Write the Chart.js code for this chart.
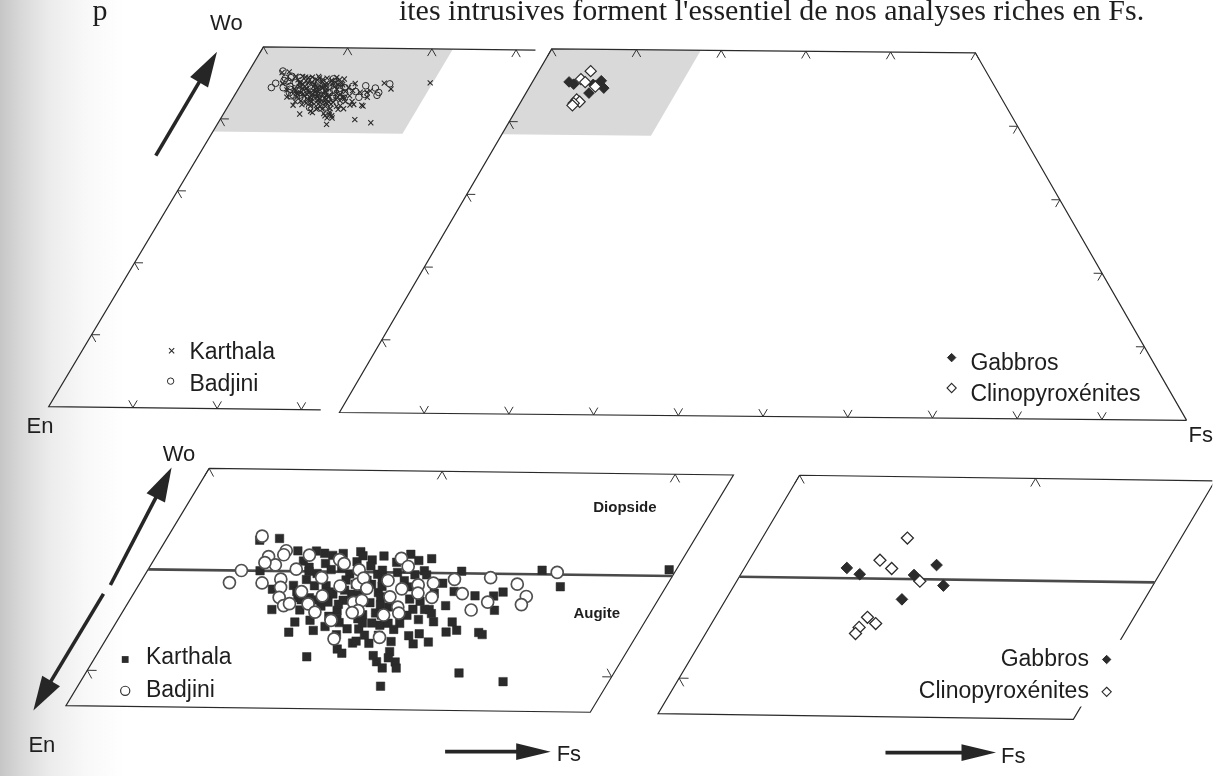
<!DOCTYPE html>
<html lang="fr">
<head>
<meta charset="utf-8">
<title>Pyroxènes : Karthala, Badjini, gabbros et clinopyroxénites</title>
<script src="https://cdn.jsdelivr.net/npm/chart.js@4.4.1/dist/chart.umd.min.js"></script>
<style>
  html, body { margin: 0; padding: 0; background: #fff; }
  #page {
    position: relative; width: 1220px; height: 776px; overflow: hidden;
    background: linear-gradient(to right, #c6c6c6 0px, #d9d9d9 22px, #ececec 50px, #f8f8f8 85px, #ffffff 125px);
  }
  #page canvas { position: absolute; left: 0; top: 0; }
</style>
</head>
<body>
<div id="page"><canvas id="diagram" width="1220" height="776"></canvas></div>
<script>
// ---------------------------------------------------------------------------
// Pyroxene compositions, in mol % (Fs, Wo); En = 100 - Fs - Wo
// ---------------------------------------------------------------------------
const karthalaFs = [4.0,4.8,5.9,6.7,7.5,8.6,9.3,10.8,11.3,11.8,13.4,16.8,18.0,5.8,6.3,7.6,7.6,8.6,9.0,10.1,
  10.4,10.6,10.5,10.9,11.3,11.3,12.1,12.5,12.4,12.9,13.1,12.2,12.9,12.1,13.2,13.2,12.8,13.0,13.6,14.3,
  14.3,14.7,15.9,13.6,14.6,15.7,15.9,15.4,15.8,18.0,15.7,10.7,10.8,11.9,12.8,13.2,10.2,10.5,11.6,12.5,
  4.8,22.2,6.4,6.8,7.3,7.4,7.8,8.2,8.7,8.7,9.4,9.9,10.0,7.0,7.5,8.0,8.5,8.7,9.3,9.9,
  10.4,10.4,7.6,8.3,8.5,9.1,9.1,10.3,10.8,8.9,9.5,10.0,9.0,10.9,9.6,7.5,11.5,11.8,11.2,12.3,
  12.2,12.8,12.9,7.1,7.9,6.6,7.1,9.2,
  6.9,7.7,8.3,8.9,9.6,10.2,9.0,9.8,10.6,11.2,9.3,10.3,11.1,8.2,8.0,7.3,6.9,8.8,9.7,10.4,
  11.0,11.6,12.0,12.4,11.5,12.0,9.7,10.7,13.5,13.8,11.8,12.8];
const karthalaWo = [46.5,46.6,46.0,46.0,45.8,46.0,45.6,45.9,45.6,45.7,45.1,45.2,44.4,44.1,43.1,42.5,42.0,42.1,40.8,41.2,
  41.0,41.5,42.2,41.9,41.5,42.4,40.6,40.3,41.1,40.6,40.3,41.6,39.4,42.5,41.5,42.0,42.7,43.2,43.4,42.1,
  42.6,42.2,40.1,44.1,43.9,42.1,42.0,43.9,43.2,39.7,44.1,45.0,43.4,43.7,43.2,43.0,42.7,42.5,42.5,40.8,
  45.0,45.3,45.5,45.2,44.9,45.4,45.1,45.2,44.9,45.5,45.3,44.9,45.1,44.6,44.3,44.3,43.9,44.6,43.9,44.4,
  44.0,44.3,43.7,43.3,43.5,43.1,43.6,43.5,43.0,42.8,42.5,42.2,42.3,42.5,43.9,43.1,44.9,45.1,44.6,43.2,
  42.9,44.0,44.5,45.9,45.9,44.3,43.7,44.4,
  45.0,44.6,44.0,44.1,44.6,44.7,43.4,43.2,43.8,43.3,42.7,42.9,42.9,42.6,43.6,43.6,44.0,45.8,45.8,45.5,
  45.2,44.3,44.9,43.6,41.9,42.2,41.9,41.6,42.6,41.6,40.9,41.9];

const badjiniFs = [4.0,4.0,3.8,5.2,4.8,5.3,5.4,5.4,5.9,6.1,6.3,6.7,6.9,6.3,7.1,7.7,6.5,8.2,7.6,8.1,
  9.1,9.7,7.9,8.2,8.6,9.0,9.3,9.4,9.8,9.6,9.9,10.0,9.8,11.6,11.2,10.5,11.0,10.5,11.0,11.3,
  11.6,11.8,11.9,12.1,12.5,12.8,13.3,14.0,14.8,15.3,14.8,16.1,16.8,16.8,17.5,4.8];
const badjiniWo = [46.7,45.0,44.4,44.4,45.7,45.3,46.0,45.8,44.6,44.2,43.7,43.3,43.4,45.1,44.0,43.4,45.8,43.0,44.7,43.8,
  42.6,41.7,45.6,45.4,44.3,45.1,44.4,44.7,44.2,43.5,43.6,43.1,43.0,41.8,42.9,44.6,43.8,45.7,45.3,44.2,
  43.3,43.0,44.4,44.0,44.5,43.8,44.7,44.0,43.2,43.6,44.8,44.5,43.9,43.5,45.1,45.4];

const gabbroFs = [4.3, 5.0, 7.3, 8.0, 8.8, 7.4];
const gabbroWo = [45.5, 45.2, 45.2, 45.7, 44.7, 44.0];

const clinoFs = [6.1, 5.5, 6.2, 7.7, 6.4, 6.9, 6.3, 6.3];
const clinoWo = [47.0, 45.9, 45.5, 44.9, 43.1, 42.8, 42.6, 42.3];

// graduation of the quadrilateral (10 % steps)
const fsTicksBase = [10, 20, 30, 40, 50, 60, 70, 80, 90];
const fsTicksTop  = [0, 10, 20, 30, 40, 50];
const woTicks     = [10, 20, 30, 40];

// composition limits of the diagrams
const WO_TOP = 50;                 // Di–Hd join
const FS_LAVA_VIEW = 32.3;         // visible part of the lava quadrilateral
const ZOOM_WO_MIN = 38.25;         // lower limit of the enlarged windows
const ZOOM_FS_LAVA = 22.5;
const ZOOM_FS_INTR = 17.6;
const DI_AUG_WO = 45;              // diopside / augite boundary

// ---------------------------------------------------------------------------
// Page layout: each diagram is an oblique projection of (Fs, Wo) onto the page
// ---------------------------------------------------------------------------
const P = {
  lava:     { ox: 41.5, oy: 407, a: 8.53, b: 4.35,  c: 0.10, d: 7.34, w0: 0 },
  intr:     { ox: 336,  oy: 413, a: 8.58, b: 4.30,  c: 0.08, d: 7.42, w0: 0 },
  lavaZoom: { ox: 204,  oy: 470, a: 23.6, b: 12.34, c: 0.30, d: 20.6, w0: 50 },
  intrZoom: { ox: 802,  oy: 477, a: 23.9, b: 12.2,  c: 0.33, d: 20.7, w0: 50 }
};
function project(p, fs, wo) {
  const dw = wo - p.w0;
  return { x: p.ox + p.a * fs + p.b * dw, y: p.oy + p.c * fs - p.d * dw };
}
const GAP = { x: 0, y: null };
const path = (p, pts) => pts.map(([f, w]) => project(p, f, w));
const points = (p, fsArr, woArr) => fsArr.slice(0, Math.min(fsArr.length, woArr.length)).map((f, i) => project(p, f, woArr[i]));

// small chevron ticks drawn along the two other composition directions
function chevron(p, v, a1, a2) { return [project(p, a1[0], a1[1]), project(p, v[0], v[1]), project(p, a2[0], a2[1]), GAP]; }
const tickBase  = (p, f, d) => chevron(p, [f, 0], [f - d, d], [f, d]);
const tickTop   = (p, f, wt, d) => chevron(p, [f, wt], [f, wt - d], [f + d, wt - d]);
const tickLeft  = (p, w, d) => chevron(p, [0, w], [d, w], [d, w - d]);
const tickRight = (p, w, d) => { const f = 100 - w; return chevron(p, [f, w], [f - d, w], [f, w - d]); };
const tickSide  = (p, fe, w, d) => chevron(p, [fe, w], [fe - d, w], [fe - d, w + d]);

// outlines
const frameLava = path(P.lava, [[FS_LAVA_VIEW, 0], [0, 0], [0, WO_TOP], [FS_LAVA_VIEW, WO_TOP]]);
const frameIntr = path(P.intr, [[100, 0], [0, 0], [0, WO_TOP], [50, WO_TOP], [100, 0]]);
const frameLavaZoom = path(P.lavaZoom, [[0, WO_TOP], [ZOOM_FS_LAVA, WO_TOP], [ZOOM_FS_LAVA, ZOOM_WO_MIN], [0, ZOOM_WO_MIN], [0, WO_TOP]]);
const frameIntrZoom = path(P.intrZoom, [[0, WO_TOP], [ZOOM_FS_INTR, WO_TOP], [ZOOM_FS_INTR, ZOOM_WO_MIN], [0, ZOOM_WO_MIN], [0, WO_TOP]]);

// windows enlarged below
const windowLava = path(P.lava, [[0, ZOOM_WO_MIN], [ZOOM_FS_LAVA, ZOOM_WO_MIN], [ZOOM_FS_LAVA, WO_TOP], [0, WO_TOP], [0, ZOOM_WO_MIN]]);
const windowIntr = path(P.intr, [[0, ZOOM_WO_MIN], [ZOOM_FS_INTR, ZOOM_WO_MIN], [ZOOM_FS_INTR, WO_TOP], [0, WO_TOP], [0, ZOOM_WO_MIN]]);

// graduations
const ticksLava = [
  ...fsTicksBase.filter(f => f < FS_LAVA_VIEW).flatMap(f => tickBase(P.lava, f, 1)),
  ...fsTicksTop.filter(f => f < FS_LAVA_VIEW).flatMap(f => tickTop(P.lava, f, WO_TOP, 1)),
  ...woTicks.flatMap(w => tickLeft(P.lava, w, 1))
];
const ticksIntr = [
  ...fsTicksBase.flatMap(f => tickBase(P.intr, f, 1)),
  ...fsTicksTop.flatMap(f => tickTop(P.intr, f, WO_TOP, 1)),
  ...woTicks.flatMap(w => tickLeft(P.intr, w, 1)),
  ...woTicks.flatMap(w => tickRight(P.intr, w, 1))
];
const ticksLavaZoom = [
  ...fsTicksTop.filter(f => f < ZOOM_FS_LAVA).flatMap(f => tickTop(P.lavaZoom, f, WO_TOP, 0.4)),
  ...woTicks.filter(w => w > ZOOM_WO_MIN).flatMap(w => tickLeft(P.lavaZoom, w, 0.4)),
  ...woTicks.filter(w => w > ZOOM_WO_MIN).flatMap(w => tickSide(P.lavaZoom, ZOOM_FS_LAVA, w, 0.4))
];
const ticksIntrZoom = [
  ...fsTicksTop.filter(f => f < ZOOM_FS_INTR).flatMap(f => tickTop(P.intrZoom, f, WO_TOP, 0.4)),
  ...woTicks.filter(w => w > ZOOM_WO_MIN).flatMap(w => tickLeft(P.intrZoom, w, 0.4))
];

// diopside / augite boundary
const diAugLava = path(P.lavaZoom, [[0, DI_AUG_WO], [ZOOM_FS_LAVA, DI_AUG_WO]]);
const diAugIntr = path(P.intrZoom, [[0, DI_AUG_WO], [ZOOM_FS_INTR, DI_AUG_WO]]);

// direction arrows (page units)
function arrow(tail, tip, headLen, halfW) {
  const dx = tip[0] - tail[0], dy = tip[1] - tail[1], L = Math.hypot(dx, dy);
  const ux = dx / L, uy = dy / L;
  const bx = tip[0] - ux * headLen, by = tip[1] - uy * headLen;
  return {
    shaft: [{ x: tail[0], y: tail[1] }, { x: bx + ux * 2, y: by + uy * 2 }],
    head: [{ x: tip[0], y: tip[1] }, { x: bx - uy * halfW, y: by + ux * halfW }, { x: bx + uy * halfW, y: by - ux * halfW }, { x: tip[0], y: tip[1] }]
  };
}
const arrows = [
  arrow([150, 151], [212, 45], 36, 10.5),
  arrow([104, 589], [166, 469], 35, 10.5),
  arrow([97, 598], [26, 717], 35, 10.5),
  arrow([443, 759], [550, 759], 35, 8.5),
  arrow([889, 760], [1001, 760], 35, 8.5)
];

// ---------------------------------------------------------------------------
const INK = '#1e1e1e';
const SANS = "'Liberation Sans', Arial, Helvetica, sans-serif";
const SERIF = "'Liberation Serif', 'Times New Roman', serif";

const lineSet = (data, color, width, order) => ({
  type: 'line', data, borderColor: color, borderWidth: width, pointRadius: 0,
  fill: false, tension: 0, spanGaps: false, order, borderJoinStyle: 'miter'
});
const areaSet = (data, color, order) => ({
  type: 'line', data, borderWidth: 0, borderColor: 'rgba(0,0,0,0)', backgroundColor: color,
  fill: 'shape', pointRadius: 0, tension: 0, order
});
const markerSet = (data, style, radius, fill, stroke, width, order) => ({
  type: 'scatter', data, pointStyle: style, pointRadius: radius,
  pointBackgroundColor: fill, pointBorderColor: stroke, pointBorderWidth: width, order
});

const datasets = [
  areaSet(windowLava, '#d9d9d9', 90),
  areaSet(windowIntr, '#d9d9d9', 90),
  lineSet(frameLava, '#2a2a2a', 1.2, 60),
  lineSet(frameIntr, '#2a2a2a', 1.2, 60),
  lineSet(frameLavaZoom, '#2a2a2a', 1.2, 60),
  lineSet(frameIntrZoom, '#2a2a2a', 1.2, 60),
  lineSet(ticksLava, '#333', 1, 60),
  lineSet(ticksIntr, '#333', 1, 60),
  lineSet(ticksLavaZoom, '#333', 1, 60),
  lineSet(ticksIntrZoom, '#333', 1, 60),
  lineSet(diAugLava, '#4a4a4a', 2.6, 55),
  lineSet(diAugIntr, '#4a4a4a', 2.6, 55),
  ...arrows.map(a => lineSet(a.shaft, '#262626', 3.6, 50)),
  ...arrows.map(a => areaSet(a.head, '#262626', 49)),

  // lavas, whole quadrilateral
  markerSet(points(P.lava, karthalaFs, karthalaWo), 'crossRot', 3.6, 'rgba(0,0,0,0)', '#2a2a2a', 1.1, 30),
  markerSet(points(P.lava, badjiniFs, badjiniWo), 'circle', 3.3, 'rgba(255,255,255,0)', '#2a2a2a', 1, 29),
  // intrusives, whole quadrilateral
  markerSet(points(P.intr, gabbroFs, gabbroWo), 'rectRot', 5.3, '#2c2c2c', '#2c2c2c', 1, 28),
  markerSet(points(P.intr, clinoFs, clinoWo), 'rectRot', 5.6, '#ffffff', '#2c2c2c', 1.2, 27),
  // lavas, enlarged window
  markerSet(points(P.lavaZoom, karthalaFs, karthalaWo), 'rect', 6.0, '#2b2b2b', '#2b2b2b', 0.5, 20),
  markerSet(points(P.lavaZoom, badjiniFs, badjiniWo), 'circle', 6.0, '#ffffff', '#505050', 1.7, 10),
  // intrusives, enlarged window
  markerSet(points(P.intrZoom, gabbroFs, gabbroWo), 'rectRot', 5.8, '#2c2c2c', '#2c2c2c', 1, 20),
  markerSet(points(P.intrZoom, clinoFs, clinoWo), 'rectRot', 6.0, '#ffffff', '#2c2c2c', 1.3, 19)
];

function symbol(ctx, style, x, y, r, fill, stroke, lw) {
  ctx.beginPath();
  if (style === 'circle') ctx.arc(x, y, r, 0, Math.PI * 2);
  else if (style === 'rect') ctx.rect(x - r, y - r, 2 * r, 2 * r);
  else if (style === 'rectRot') { ctx.moveTo(x, y - r); ctx.lineTo(x + r, y); ctx.lineTo(x, y + r); ctx.lineTo(x - r, y); ctx.closePath(); }
  else if (style === 'crossRot') { ctx.moveTo(x - r, y - r); ctx.lineTo(x + r, y + r); ctx.moveTo(x + r, y - r); ctx.lineTo(x - r, y + r); }
  if (fill) { ctx.fillStyle = fill; ctx.fill(); }
  if (stroke) { ctx.strokeStyle = stroke; ctx.lineWidth = lw; ctx.stroke(); }
}

// labels, legends and running text
const annotations = {
  id: 'annotations',
  afterDatasetsDraw(chart) {
    const ctx = chart.ctx;
    const X = v => chart.scales.x.getPixelForValue(v);
    const Y = v => chart.scales.y.getPixelForValue(v);
    const text = (s, x, y, font, align) => {
      ctx.font = font; ctx.textAlign = align || 'left'; ctx.textBaseline = 'alphabetic';
      ctx.fillStyle = INK; ctx.fillText(s, X(x), Y(y));
    };
    ctx.save();

    // end of the preceding paragraph line
    text('p', 86, 13, '30px ' + SERIF);
    text("ites intrusives forment l'essentiel de nos analyses riches en Fs.", 1151, 13, '30px ' + SERIF, 'right');

    // poles
    const pole = '22px ' + SANS;
    text('Wo', 205, 23, pole);
    text('En', 19, 434, pole);
    text('Fs', 1196, 443, pole);
    text('Wo', 157, 462, pole);
    text('En', 21, 759, pole);
    text('Fs', 556, 769, pole);
    text('Fs', 1006, 771, pole);

    // fields
    text('Diopside', 593, 515, 'bold 15px ' + SANS);
    text('Augite', 573, 623, 'bold 15px ' + SANS);

    const leg = '23px ' + SANS;
    // lavas, whole diagram
    symbol(ctx, 'crossRot', X(166), Y(350), 2.6, null, '#2a2a2a', 1.1);
    text('Karthala', 184, 358, leg);
    symbol(ctx, 'circle', X(165), Y(381), 3.2, null, '#2a2a2a', 1);
    text('Badjini', 184, 391, leg);
    // intrusives, whole diagram
    symbol(ctx, 'rectRot', X(956), Y(357), 4.2, '#2c2c2c', '#2c2c2c', 1);
    text('Gabbros', 975, 370, leg);
    symbol(ctx, 'rectRot', X(956), Y(388), 4.6, '#ffffff', '#2c2c2c', 1.1);
    text('Clinopyroxénites', 975, 401, leg);
    // lavas, enlarged window
    symbol(ctx, 'rect', X(119), Y(665), 3.4, '#2b2b2b', null, 0);
    text('Karthala', 140, 670, leg);
    symbol(ctx, 'circle', X(119), Y(697), 4.6, '#ffffff', '#333', 1.2);
    text('Badjini', 140, 703, leg);
    // intrusives, enlarged window (legend box sits over the frame)
    ctx.fillStyle = '#ffffff';
    ctx.fillRect(X(996), Y(645), X(1130) - X(996), Y(713) - Y(645));
    text('Gabbros', 1095, 672, leg, 'right');
    symbol(ctx, 'rectRot', X(1113), Y(665), 4.2, '#2c2c2c', '#2c2c2c', 1);
    text('Clinopyroxénites', 1095, 704, leg, 'right');
    symbol(ctx, 'rectRot', X(1113), Y(698), 4.6, '#ffffff', '#2c2c2c', 1.1);

    ctx.restore();
  }
};

new Chart(document.getElementById('diagram'), {
  type: 'scatter',
  data: { datasets },
  options: {
    responsive: false,
    animation: false,
    devicePixelRatio: 1,
    events: [],
    layout: { padding: 0 },
    scales: {
      x: { type: 'linear', min: 0, max: 1220, display: false },
      y: { type: 'linear', min: 0, max: 776, reverse: true, display: false }
    },
    plugins: { legend: { display: false }, tooltip: { enabled: false }, title: { display: false } }
  },
  plugins: [annotations]
});
</script>
</body>
</html>
